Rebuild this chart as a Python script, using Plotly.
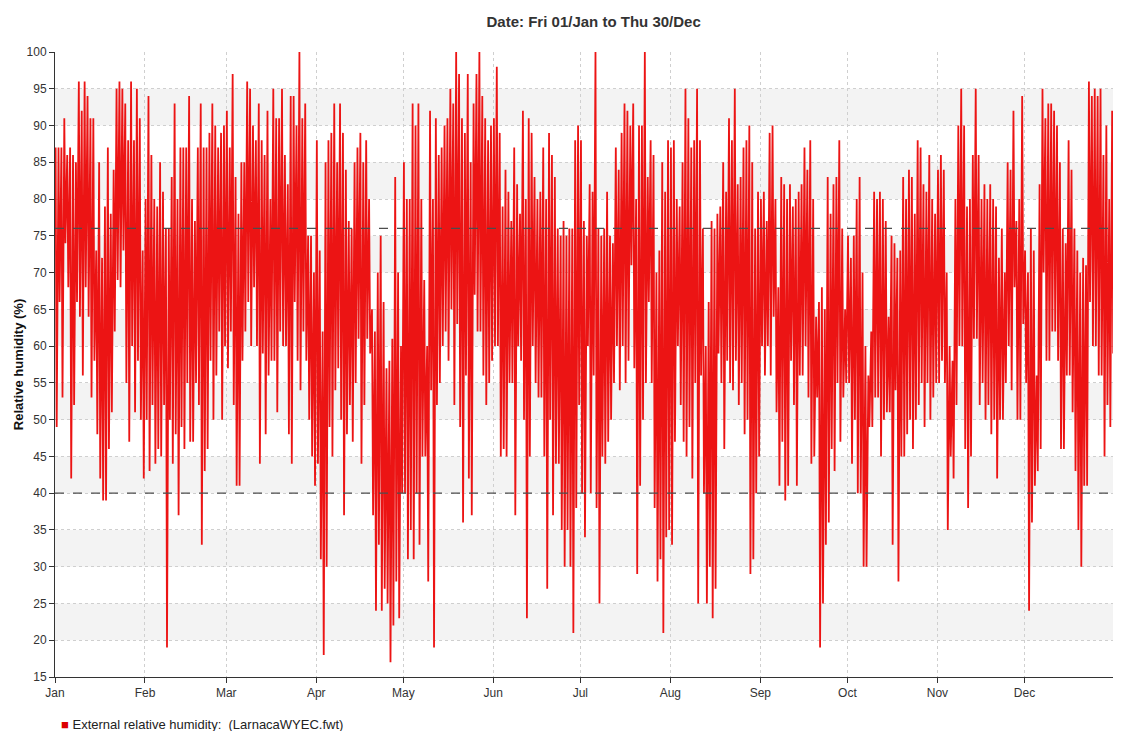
import pandas as pd
import plotly.graph_objects as go

# Daily maximum / minimum relative humidity (%), per month
max_jan = [87,87,87,91,86,87,86,85,96,92,96,94,91,91,73,85,72,79,87,78,84,95,96,95,93,88,96,88,95,91,73]
min_jan = [49,66,53,74,68,42,52,66,64,56,68,64,53,58,48,42,39,39,46,51,62,69,68,73,55,47,60,51,58,50,42]
max_feb = [80,94,86,80,79,85,81,76,76,83,93,80,87,87,87,94,80,77,87,93,87,87,89,93,90,87,89,90]
min_feb = [50,43,52,44,46,45,52,19,50,44,48,37,49,46,55,47,47,55,52,33,43,46,58,50,56,62,50,60]
max_mar = [92,87,97,83,78,85,85,96,95,90,88,93,88,86,92,80,95,91,91,95,86,82,94,94,90,100,91,93,75,75,70]
min_mar = [57,62,52,41,41,58,62,66,60,68,60,44,59,48,56,58,58,51,62,60,60,48,44,66,58,54,62,58,50,45,41]
max_apr = [88,73,62,85,88,89,93,85,93,89,84,77,76,85,87,89,85,88,80,65,62,70,75,66,57,58,61,83,70,60]
min_apr = [44,31,18,30,49,45,54,57,50,37,48,52,47,55,61,44,52,61,59,37,24,33,24,27,25,17,22,28,23,40]
max_may = [85,80,80,93,90,93,80,69,60,92,80,91,86,87,90,91,95,93,100,97,91,89,97,85,93,97,100,94,91,88,90]
min_may = [40,31,35,31,40,33,45,45,28,54,19,52,55,60,62,58,65,52,63,49,36,56,42,37,67,62,62,56,52,55,58]
max_jun = [91,98,89,79,84,81,77,87,82,78,92,80,91,89,83,80,81,87,80,89,86,83,76,75,77,75,76,76,88,90]
min_jun = [60,60,45,46,45,55,55,37,60,58,50,23,45,60,55,53,53,45,27,50,37,44,44,35,30,35,30,21,38,52]
max_jul = [88,77,75,82,81,100,76,75,76,81,75,74,87,84,89,93,92,90,93,80,90,90,100,83,88,86,70,73,85,81,88]
min_jul = [40,34,60,40,56,38,25,45,44,47,50,55,60,54,60,55,58,71,57,29,41,50,55,66,55,38,28,31,21,34,35]
max_aug = [87,88,80,79,85,95,91,87,88,95,88,76,60,66,77,76,78,79,85,81,91,88,95,82,83,87,88,90,85,76,81]
min_aug = [33,47,60,52,47,45,49,42,55,25,56,40,25,30,23,27,59,55,46,58,55,54,58,52,55,48,50,29,31,40,45]
max_sep = [80,81,77,89,90,80,68,83,82,80,82,79,80,81,82,87,84,88,80,64,66,68,65,83,78,82,83,88,76,65]
min_sep = [60,56,60,56,64,51,41,47,39,41,58,52,41,56,56,60,53,44,45,53,19,25,33,36,46,43,55,47,53,55]
max_oct = [75,72,75,80,83,70,60,56,62,81,80,81,80,77,64,75,74,72,73,83,80,84,83,78,88,87,82,81,86,80,78]
min_oct = [55,44,50,40,40,30,30,49,49,53,53,45,50,51,51,33,54,28,45,45,48,50,46,50,52,55,49,55,50,53,55]
max_nov = [84,86,84,70,60,58,80,90,95,90,79,80,86,95,86,80,82,80,82,80,79,72,76,70,85,84,92,77,80,94]
min_nov = [55,58,55,35,45,42,52,60,60,46,38,45,61,61,52,55,50,52,48,50,42,50,50,55,60,54,68,50,50,63]
max_dec = [73,70,76,73,56,82,95,91,93,93,92,90,85,76,74,88,84,76,73,70,72,71,96,94,95,94,95,86,90,80,92]
min_dec = [55,24,36,41,43,46,70,58,58,62,62,58,46,46,56,56,51,43,35,30,41,41,66,60,60,56,56,45,52,49,59]

band_lows = [20, 30, 40, 50, 60, 70, 80, 90]   # grey background bands, 5 units tall
limit_lines = [76, 40]                          # dashed reference lines
title_text = "Date: Fri 01/Jan to Thu 30/Dec"
y_title = "Relative humidity (%)"
series_name = "External relative humidity:  (LarnacaWYEC.fwt)"

rh_max = sum([max_jan, max_feb, max_mar, max_apr, max_may, max_jun,
              max_jul, max_aug, max_sep, max_oct, max_nov, max_dec], [])
rh_min = sum([min_jan, min_feb, min_mar, min_apr, min_may, min_jun,
              min_jul, min_aug, min_sep, min_oct, min_nov, min_dec], [])

start = pd.Timestamp("2021-01-01")
xs, ys = [], []
for d, (hi, lo) in enumerate(zip(rh_max, rh_min)):
    xs.append(start + pd.Timedelta(hours=24 * d + 5))
    ys.append(hi)
    xs.append(start + pd.Timedelta(hours=24 * d + 14))
    ys.append(lo)

RED = "rgb(236,20,20)"
FONT = "Liberation Sans, Arial, sans-serif"

fig = go.Figure()
fig.add_trace(go.Scatter(x=xs, y=ys, mode="lines", name=series_name,
                         line=dict(color=RED, width=1.8),
                         showlegend=False, hoverinfo="skip"))

shapes = []
for b in band_lows:
    shapes.append(dict(type="rect", xref="paper", yref="y", x0=0, x1=1, y0=b, y1=b + 5,
                       fillcolor="#f3f3f3", line=dict(width=0), layer="below"))
for v in limit_lines:
    shapes.append(dict(type="line", xref="paper", yref="y", x0=0, x1=1, y0=v, y1=v,
                       line=dict(color="#4d4d4d", width=1.2, dash="dash"), layer="above"))

annotations = [
    dict(text="<span style='color:rgb(220,0,0)'>\u25A0</span> " + series_name,
         xref="paper", yref="paper", x=0.004, y=-0.076, xanchor="left", yanchor="middle",
         showarrow=False, font=dict(size=13, color="#222222", family=FONT)),
]

# page body adds an 8px margin, so the figure is sized to fit inside the window
fig.update_layout(
    width=1105, height=723,
    margin=dict(l=47, r=0, t=44, b=54),
    paper_bgcolor="white", plot_bgcolor="rgba(0,0,0,0)",
    font=dict(family=FONT, size=12, color="#333333"),
    title=dict(text="<b>" + title_text + "</b>", x=0.530, xref="container",
               xanchor="center", y=0.9806, yanchor="middle",
               font=dict(size=15, color="#333333", family=FONT)),
    shapes=shapes,
    annotations=annotations,
    showlegend=False,
)
fig.update_xaxes(
    type="date", range=[start, start + pd.Timedelta(days=364, hours=12)],
    dtick="M1", tick0="2021-01-01", tickformat="%b",
    showgrid=True, gridcolor="#cfcfcf", griddash="dot", gridwidth=1,
    showline=True, linecolor="#333333", linewidth=1,
    ticks="outside", ticklen=5, tickcolor="#333333",
    tickfont=dict(size=12, color="#333333"), zeroline=False,
)
fig.update_yaxes(
    range=[15, 100], dtick=5, tick0=15,
    showgrid=True, gridcolor="#cfcfcf", griddash="dot", gridwidth=1,
    showline=True, linecolor="#333333", linewidth=1,
    ticks="outside", ticklen=5, tickcolor="#333333",
    tickfont=dict(size=12, color="#333333"), zeroline=False,
    title=dict(text="<b>" + y_title + "</b>", font=dict(size=13, color="#111111"),
               standoff=0),
)

fig.write_html("out.html")
